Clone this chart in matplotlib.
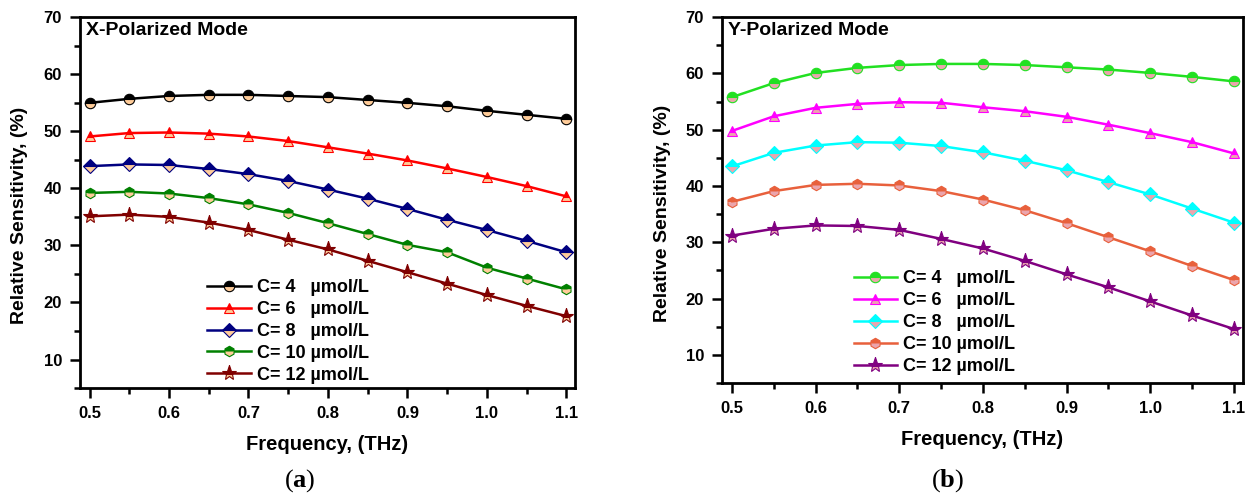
import matplotlib
matplotlib.use('Agg')
import matplotlib.pyplot as plt
from matplotlib.ticker import MultipleLocator, FormatStrFormatter

plt.rcParams['font.family'] = ['Liberation Sans', 'DejaVu Sans']
plt.rcParams['font.weight'] = 'bold'
plt.rcParams['mathtext.fontset'] = 'custom'
plt.rcParams['mathtext.rm'] = 'Liberation Serif:normal'
plt.rcParams['mathtext.bf'] = 'Liberation Serif:bold'

freq = [0.5, 0.55, 0.6, 0.65, 0.7, 0.75, 0.8, 0.85, 0.9, 0.95, 1.0, 1.05, 1.1]
labels = ['C= 4   \u00b5mol/L', 'C= 6   \u00b5mol/L', 'C= 8   \u00b5mol/L',
          'C= 10 \u00b5mol/L', 'C= 12 \u00b5mol/L']
markers = ['o', '^', 'D', 'h', '*']

# X-polarized mode
x_c4 = [55.0, 55.7, 56.2, 56.4, 56.4, 56.2, 56.0, 55.5, 55.0, 54.4, 53.6, 52.9, 52.2]
x_c6 = [49.1, 49.7, 49.8, 49.6, 49.1, 48.3, 47.2, 46.1, 44.9, 43.5, 42.0, 40.4, 38.6]
x_c8 = [43.9, 44.2, 44.1, 43.4, 42.5, 41.3, 39.8, 38.2, 36.4, 34.5, 32.7, 30.8, 28.8]
x_c10 = [39.2, 39.4, 39.1, 38.3, 37.2, 35.7, 33.9, 32.0, 30.1, 28.8, 26.1, 24.2, 22.3]
x_c12 = [35.1, 35.4, 35.0, 34.0, 32.7, 31.0, 29.3, 27.3, 25.3, 23.3, 21.3, 19.4, 17.6]
x_colors = ['#000000', '#FF0000', '#000080', '#008000', '#800000']

# Y-polarized mode
y_c4 = [55.8, 58.3, 60.1, 61.0, 61.5, 61.7, 61.7, 61.5, 61.1, 60.7, 60.1, 59.4, 58.6]
y_c6 = [49.8, 52.4, 53.9, 54.6, 54.9, 54.8, 54.0, 53.3, 52.3, 50.9, 49.4, 47.8, 45.8]
y_c8 = [43.5, 45.9, 47.2, 47.8, 47.7, 47.1, 46.0, 44.5, 42.8, 40.7, 38.5, 36.0, 33.5]
y_c10 = [37.2, 39.1, 40.2, 40.4, 40.1, 39.1, 37.6, 35.7, 33.4, 30.9, 28.4, 25.8, 23.3]
y_c12 = [31.2, 32.4, 33.0, 32.9, 32.2, 30.6, 28.9, 26.7, 24.3, 22.0, 19.5, 17.0, 14.6]
y_colors = ['#22E022', '#FF00FF', '#00FFFF', '#E8603C', '#800080']

fig = plt.figure(figsize=(12.52, 4.99), dpi=100)
ax1 = fig.add_axes([0.0639, 0.2224, 0.3954, 0.743])
ax2 = fig.add_axes([0.5767, 0.2325, 0.4161, 0.733])


def draw(ax, series, colors, alt, title, leg_xy, ylab_xy):
    for s, c, m, lab in zip(series, colors, markers, labels):
        ms = 11 if m == '*' else 7.5
        ax.plot(freq, s, color=c, lw=1.8, marker=m, ms=ms, fillstyle='top',
                markerfacecolor=c, markerfacecoloralt=alt, markeredgecolor=c,
                markeredgewidth=0.8, label=lab)
    ax.set_xlim(0.488, 1.111)
    ax.set_ylim(5, 70)
    ax.xaxis.set_major_locator(MultipleLocator(0.1))
    ax.xaxis.set_minor_locator(MultipleLocator(0.05))
    ax.xaxis.set_major_formatter(FormatStrFormatter('%.1f'))
    ax.yaxis.set_major_locator(MultipleLocator(10))
    ax.yaxis.set_minor_locator(MultipleLocator(5))
    ax.yaxis.set_major_formatter(FormatStrFormatter('%d'))
    ax.tick_params(which='major', length=7, width=1.8, labelsize=12, pad=6)
    ax.tick_params(which='minor', length=4, width=1.8)
    for sp in ax.spines.values():
        sp.set_linewidth(2)
    ax.set_xlabel('Frequency, (THz)', fontsize=14.5, fontweight='bold', labelpad=10)
    ax.set_ylabel('Relative Sensitivity, (%)', fontsize=14, fontweight='bold')
    ax.yaxis.set_label_coords(*ylab_xy)
    ax.text(0.012, 0.988, title, transform=ax.transAxes, ha='left', va='top',
            fontsize=14, fontweight='bold')
    ax.legend(loc='lower left', bbox_to_anchor=leg_xy, frameon=False,
              fontsize=13, handlelength=2.4, handletextpad=0.35,
              labelspacing=0.27, borderpad=0, borderaxespad=0)


draw(ax1, [x_c4, x_c6, x_c8, x_c10, x_c12], x_colors, '#FFCC99',
     'X-Polarized Mode', (0.257, 0.012), (-0.106, 0.466))
draw(ax2, [y_c4, y_c6, y_c8, y_c10, y_c12], y_colors, '#EBA5AD',
     'Y-Polarized Mode', (0.253, 0.022), (-0.097, 0.464))

fig.text(0.2396, 0.036, r'$\mathrm{(}\mathbf{a}\mathrm{)}$', ha='center', va='center', fontsize=19)
fig.text(0.7572, 0.036, r'$\mathrm{(}\mathbf{b}\mathrm{)}$', ha='center', va='center', fontsize=19)

fig.savefig('out.png', dpi=100)
